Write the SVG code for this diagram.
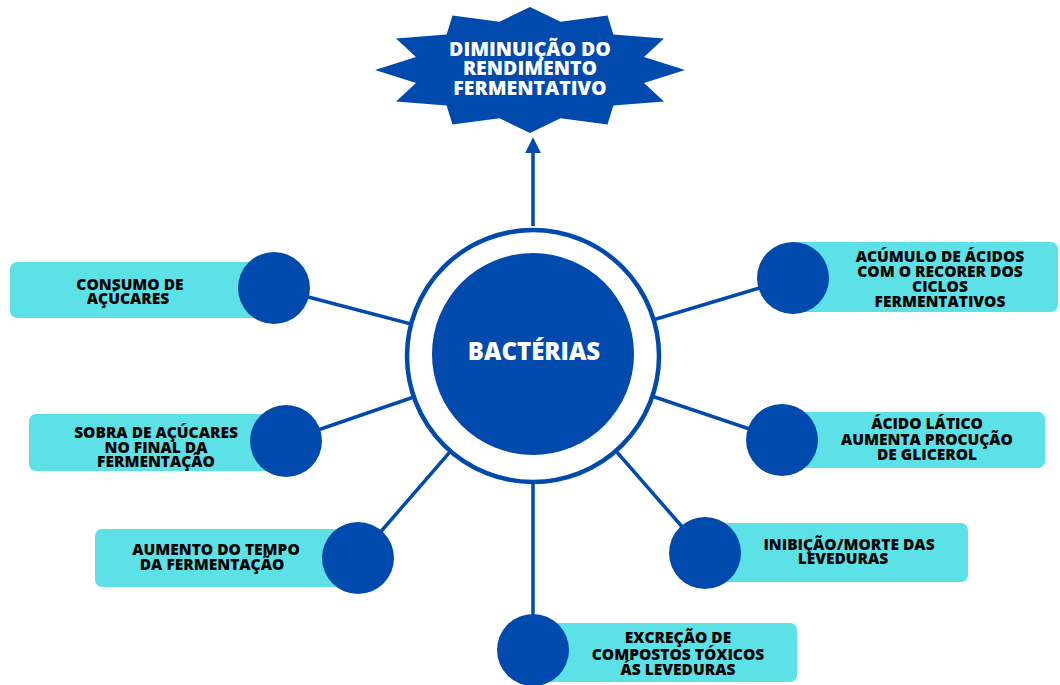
<svg xmlns="http://www.w3.org/2000/svg" width="1060" height="685" viewBox="0 0 1060 685">
<style>
.box{fill:#5ce1e6}
.dot{fill:#004aad}
.lbl{font-family:"Open Sans","Liberation Sans",sans-serif;font-weight:800;font-size:15.5px;fill:#000;text-anchor:middle}
.wt{font-family:"Open Sans","Liberation Sans",sans-serif;font-weight:800;fill:#fff;text-anchor:middle}
.con{stroke:#004aad;stroke-width:3.5;fill:none}
</style>
<defs>
<marker id="ah" viewBox="0 0 10 10" refX="5" refY="5" markerWidth="4.5" markerHeight="4.5" orient="auto" markerUnits="strokeWidth">
<path d="M0,0 L10,5 L0,10 z" fill="#004aad"/>
</marker>
</defs>
<rect width="1060" height="685" fill="#fff"/>
<g id="connectors">
<line class="con" x1="533" y1="356" x2="274" y2="288"/>
<line class="con" x1="533" y1="356" x2="793" y2="278"/>
<line class="con" x1="533" y1="356" x2="286" y2="441"/>
<line class="con" x1="533" y1="356" x2="782" y2="440"/>
<line class="con" x1="533" y1="356" x2="358" y2="558"/>
<line class="con" x1="533" y1="356" x2="705" y2="553"/>
<line class="con" x1="533" y1="356" x2="533" y2="650"/>
<line class="con" x1="533" y1="226" x2="533" y2="145" marker-end="url(#ah)"/>
</g>
<g id="top">
<polygon fill="#004aad" points="530,7 560.5,21.7 607.5,15.4 613.4,34.6 664,38.5 644,57 685,70 644,83 664,101.5 613.4,105.4 607.5,124.6 560.5,118.3 530,133 499.5,118.3 452.5,124.6 446.6,105.4 396,101.5 416,83 375,70 416,57 396,38.5 446.6,34.6 452.5,15.4 499.5,21.7"/>
<text class="wt" font-size="19.5" x="530" y="56">DIMINUIÇÃO DO</text>
<text class="wt" font-size="19.5" x="530" y="75">RENDIMENTO</text>
<text class="wt" font-size="19.5" x="530" y="95">FERMENTATIVO</text>
</g>
<g id="center">
<circle cx="533" cy="356" r="126" fill="#fff" stroke="#004aad" stroke-width="4.5"/>
<circle cx="533" cy="354" r="101" fill="#004aad"/>
<text class="wt" font-size="24" x="534" y="360">BACTÉRIAS</text>
</g>
<g id="n1">
<rect class="box" x="10" y="262" width="265" height="56" rx="7"/>
<circle class="dot" cx="274" cy="288" r="36"/>
<text class="lbl" x="130" y="290">CONSUMO DE</text>
<text class="lbl" x="128" y="304">AÇÚCARES</text>
</g>
<g id="n2">
<rect class="box" x="790" y="242" width="268" height="70" rx="7"/>
<circle class="dot" cx="793" cy="278" r="36"/>
<text class="lbl" x="940" y="262">ACÚMULO DE ÁCIDOS</text>
<text class="lbl" x="940" y="277">COM O RECORER DOS</text>
<text class="lbl" x="940" y="292">CICLOS</text>
<text class="lbl" x="940" y="307">FERMENTATIVOS</text>
</g>
<g id="n3">
<rect class="box" x="29" y="414" width="258" height="57" rx="7"/>
<circle class="dot" cx="286" cy="441" r="36"/>
<text class="lbl" x="156" y="438">SOBRA DE AÇÚCARES</text>
<text class="lbl" x="156" y="453">NO FINAL DA</text>
<text class="lbl" x="156" y="467">FERMENTAÇÃO</text>
</g>
<g id="n4">
<rect class="box" x="780" y="412" width="265" height="56" rx="7"/>
<circle class="dot" cx="782" cy="440" r="36"/>
<text class="lbl" x="927" y="429">ÁCIDO LÁTICO</text>
<text class="lbl" x="927" y="445">AUMENTA PROCUÇÃO</text>
<text class="lbl" x="927" y="460">DE GLICEROL</text>
</g>
<g id="n5">
<rect class="box" x="95" y="529" width="263" height="58" rx="7"/>
<circle class="dot" cx="358" cy="558" r="36"/>
<text class="lbl" x="216" y="555">AUMENTO DO TEMPO</text>
<text class="lbl" x="212" y="570">DA FERMENTAÇÃO</text>
</g>
<g id="n6">
<rect class="box" x="703" y="523" width="265" height="59" rx="7"/>
<circle class="dot" cx="705" cy="553" r="36"/>
<text class="lbl" x="849" y="550">INIBIÇÃO/MORTE DAS</text>
<text class="lbl" x="843" y="564">LEVEDURAS</text>
</g>
<g id="n7">
<rect class="box" x="531" y="623" width="266" height="59" rx="7"/>
<circle class="dot" cx="533" cy="650" r="36"/>
<text class="lbl" x="678" y="643">EXCREÇÃO DE</text>
<text class="lbl" x="678" y="660">COMPOSTOS TÓXICOS</text>
<text class="lbl" x="678" y="675">ÁS LEVEDURAS</text>
</g>
</svg>
